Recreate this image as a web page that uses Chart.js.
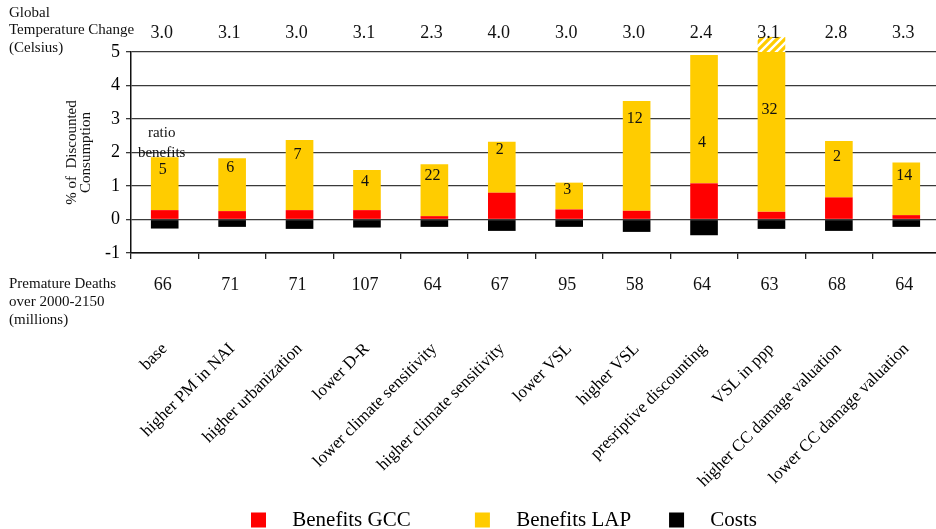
<!DOCTYPE html>
<html><head><meta charset="utf-8">
<script src="https://cdn.jsdelivr.net/npm/chart.js@4/dist/chart.umd.min.js"></script>
<style>
html,body{margin:0;padding:0;background:#fff;overflow:hidden;width:936px;height:529px}
#wrap{width:940px;height:529px;position:relative}
</style></head>
<body><div id="wrap"><canvas id="c"></canvas></div>
<script>
const categories = ['base','higher PM in NAI','higher urbanization','lower D-R','lower climate sensitivity','higher climate sensitivity','lower VSL','higher VSL','presriptive discounting','VSL in ppp','higher CC damage valuation','lower CC damage valuation'];
const benefitsGCC = [0.28,0.25,0.28,0.28,0.10,0.80,0.30,0.26,1.08,0.23,0.66,0.13];
const benefitsLAP = [1.58,1.58,2.09,1.20,1.55,1.52,0.80,3.28,3.83,4.77,1.68,1.57];
const benefitsLAPBeyondAxis = [null,null,null,null,null,null,null,null,null,0.45,null,null];
const costs = [-0.27,-0.22,-0.28,-0.24,-0.22,-0.34,-0.22,-0.37,-0.47,-0.28,-0.34,-0.22];
const ratioBenefits = ['5','6','7','4','22','2','3','12','4','32','2','14'];
const temperatureChange = ['3.0','3.1','3.0','3.1','2.3','4.0','3.0','3.0','2.4','3.1','2.8','3.3'];
const prematureDeaths = ['66','71','71','107','64','67','95','58','64','63','68','64'];
const yTicks = [-1,0,1,2,3,4,5];

const SERIF = '"Liberation Serif","Times New Roman",serif';
Chart.defaults.font.family = SERIF;
Chart.defaults.color = '#000';

const canvas = document.getElementById('c');
const ctx = canvas.getContext('2d');

function hatchPattern(){
  const p = document.createElement('canvas');
  p.width = 8; p.height = 8;
  const g = p.getContext('2d');
  g.fillStyle = '#fff'; g.fillRect(0,0,8,8);
  g.strokeStyle = '#FFCC00'; g.lineWidth = 3.2;
  g.beginPath();
  g.moveTo(-2,10); g.lineTo(10,-2);
  g.moveTo(-2,2); g.lineTo(2,-2);
  g.moveTo(6,10); g.lineTo(10,6);
  g.stroke();
  return ctx.createPattern(p,'repeat');
}

const annotate = {
  id:'annotate',
  afterLayout(chart, args, opts){
    const lg = chart.legend;
    const pad = lg.options.labels.padding;
    lg.top = opts.legendCenterY - pad - 10.5;
    lg.bottom = chart.height;
    lg.height = lg.bottom - lg.top;
    lg.left += opts.legendShiftX;
    lg.right += opts.legendShiftX;
  },
  afterDatasetsDraw(chart, args, opts){
    const c = chart.ctx, x = chart.scales.x;
    c.save();
    c.fillStyle = '#111';
    c.textBaseline = 'middle';
    c.textAlign = 'left';
    c.font = '15px ' + SERIF;
    ['Global','Temperature Change','(Celsius)'].forEach((t,i)=>c.fillText(t, 9, 13 + i*17.5));
    ['Premature Deaths','over 2000-2150','(millions)'].forEach((t,i)=>c.fillText(t, 9, 284.5 + i*18));
    c.textAlign = 'center';
    c.font = '18px ' + SERIF;
    temperatureChange.forEach((t,i)=>c.fillText(t, x.getPixelForValue(i) - 3, 33));
    prematureDeaths.forEach((t,i)=>c.fillText(t, x.getPixelForValue(i) - 2, 285));
    const meta = chart.getDatasetMeta(1);
    c.font = '16px ' + SERIF;
    meta.data.forEach((bar,i)=>{
      c.fillText(ratioBenefits[i], bar.x - 2, bar.y + opts.ratioOffsets[i]);
    });
    const b0 = meta.data[0];
    c.font = '15px ' + SERIF;
    c.fillText('ratio', b0.x - 3, b0.y - 24);
    c.fillText('benefits', b0.x - 3, b0.y - 4.5);
    c.restore();
  }
};

const NB = '\u00A0';
new Chart(ctx, {
  type:'bar',
  data:{
    labels: categories,
    datasets:[
      {label:'Benefits GCC', data:benefitsGCC, backgroundColor:'#FF0000', borderWidth:0},
      {label:'Benefits LAP', data:benefitsLAP, backgroundColor:'#FFCC00', borderWidth:0},
      {label:'Costs', data:costs, backgroundColor:'#000000', borderWidth:0},
      {label:'Benefits LAP (beyond axis)', data:benefitsLAPBeyondAxis, backgroundColor:hatchPattern(), borderWidth:0, clip:false}
    ]
  },
  options:{
    responsive:true,
    maintainAspectRatio:false,
    animation:false,
    layout:{padding:{left:0, right:0, top:52, bottom:0}},
    datasets:{bar:{categoryPercentage:1, barPercentage:0.41}},
    scales:{
      x:{
        stacked:true,
        offset:true,
        grid:{offset:true, drawOnChartArea:false, tickLength:6, color:'#222', lineWidth:1.3},
        border:{display:true, color:'#111', width:1.5},
        ticks:{minRotation:45, maxRotation:45, autoSkip:false, padding:80, font:{size:17, family:SERIF}, color:'#000'},
        afterFit(s){ s.height = 246; s.paddingLeft = 0; s.paddingRight = 0; }
      },
      y:{
        stacked:true,
        min:-1, max:5,
        afterBuildTicks(s){ s.ticks = yTicks.map(v=>({value:v})); },
        grid:{color:'#3a3a3a', lineWidth:1.3, tickLength:5},
        border:{display:true, color:'#111', width:1.5},
        ticks:{padding:6, font:{size:18, family:SERIF}, color:'#000'},
        title:{display:true, text:['% of  Discounted','Consumption'], font:{size:15, family:SERIF, lineHeight:0.95}, color:'#111', padding:{top:65, bottom:0}},
        afterFit(s){ s.width = 131; }
      }
    },
    plugins:{
      legend:{
        position:'bottom',
        maxHeight:30,
        labels:{
          boxWidth:15, boxHeight:15, padding:38,
          font:{size:21, family:SERIF}, color:'#000',
          filter:(item)=>item.datasetIndex !== 3,
          generateLabels(chart){
            const items = Chart.defaults.plugins.legend.labels.generateLabels(chart);
            items.forEach((it,i)=>{
              it.text = NB+NB+NB + it.text + (i === 0 ? NB+NB+NB+NB+NB : '');
              it.lineWidth = 0;
            });
            return items;
          }
        }
      },
      tooltip:{enabled:false},
      annotate:{legendCenterY:520, legendShiftX:34, ratioOffsets:[13,10,15,12,12,8,7,18,88,58,16,13]}
    }
  },
  plugins:[annotate]
});
</script>
</body></html>
